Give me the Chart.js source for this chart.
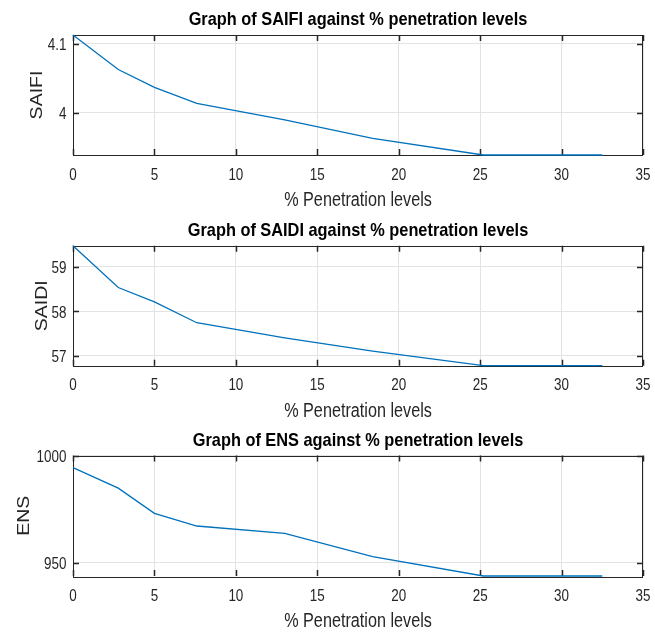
<!DOCTYPE html>
<html>
<head>
<meta charset="utf-8">
<script src="https://cdn.jsdelivr.net/npm/chart.js@4.4.1/dist/chart.umd.min.js"></script>
<style>
  html, body { margin: 0; padding: 0; background: #fff; }
  #wrap { width: 655px; height: 633px; }
  canvas { display: block; }
</style>
</head>
<body>
<div id="wrap">
  <canvas id="saifi" width="655" height="211"></canvas>
  <canvas id="saidi" width="655" height="211"></canvas>
  <canvas id="ens" width="655" height="211"></canvas>
</div>
<script>
// values
var penetration = [0, 2.78, 5.0, 7.6, 13.0, 18.4, 25.2, 32.5]
var saifi = [4.113, 4.063, 4.037, 4.014, 3.990, 3.963, 3.939, 3.939]
var saidi = [59.47, 58.53, 58.21, 57.74, 57.40, 57.10, 56.775, 56.775]
var ens = [994.5, 984.9, 973.1, 967.2, 963.8, 952.9, 943.8, 943.8]

var xTicks = [0, 5, 10, 15, 20, 25, 30, 35]
var saifiTicks = [4, 4.1]
var saidiTicks = [57, 58, 59]
var ensTicks = [950, 1000]

var saifiRange = [3.939, 4.113]
var saidiRange = [56.775, 59.47]
var ensRange = [943.8, 1000.2]

var FONT = '"Liberation Sans", Arial, Helvetica, sans-serif'
var AXIS = '#262626'

// the original export is squeezed sideways, so text gets a horizontal scale
function squeezedText(ctx, text, x, y, sx, align) {
    ctx.save()
    ctx.translate(x, y)
    ctx.scale(sx, 1)
    ctx.textAlign = align
    ctx.fillText(text, 0, 0)
    ctx.restore()
}

// MATLAB-ish box and inward ticks under the line, labels and titles on top
var matlabBox = {
    id: 'matlabBox',
    beforeDatasetsDraw: function(chart) {
        var ctx = chart.ctx
        var a = chart.chartArea
        var xs = chart.scales.x, ys = chart.scales.y
        var len = 6
        ctx.save()
        ctx.strokeStyle = AXIS
        ctx.lineWidth = 1
        ctx.strokeRect(Math.round(a.left) + 0.5, Math.round(a.top) + 0.5,
            Math.round(a.right - a.left) - 1, Math.round(a.bottom - a.top))
        ctx.lineWidth = 1.5
        ctx.beginPath()
        xs.ticks.forEach(function(t) {
            var px = Math.round(xs.getPixelForValue(t.value)) + 0.5
            ctx.moveTo(px, a.bottom); ctx.lineTo(px, a.bottom - len)
            ctx.moveTo(px, a.top); ctx.lineTo(px, a.top + len)
        })
        ys.ticks.forEach(function(t) {
            var py = Math.round(ys.getPixelForValue(t.value)) + 0.5
            ctx.moveTo(a.left, py); ctx.lineTo(a.left + len, py)
            ctx.moveTo(a.right, py); ctx.lineTo(a.right - len, py)
        })
        ctx.stroke()
        ctx.restore()
    },
    afterDraw: function(chart, args, opts) {
        var ctx = chart.ctx
        var a = chart.chartArea
        var xs = chart.scales.x, ys = chart.scales.y
        ctx.save()
        ctx.textBaseline = 'alphabetic'
        ctx.fillStyle = AXIS
        ctx.font = '16px ' + FONT
        xs.ticks.forEach(function(t) {
            squeezedText(ctx, String(t.value), xs.getPixelForValue(t.value), a.bottom + 24.5, 0.84, 'center')
        })
        ys.ticks.forEach(function(t) {
            squeezedText(ctx, String(t.value), a.left - 6.5, ys.getPixelForValue(t.value) + 6.5, 0.84, 'right')
        })

        var cx = (a.left + a.right) / 2
        ctx.font = '20px ' + FONT
        squeezedText(ctx, opts.xLabel, cx, a.bottom + 51, 0.81, 'center')

        ctx.save()
        ctx.font = '19.5px ' + FONT
        ctx.translate(opts.yLabelX, (a.top + a.bottom) / 2)
        ctx.scale(0.87, 1)
        ctx.rotate(-Math.PI / 2)
        ctx.textAlign = 'center'
        ctx.fillText(opts.yLabel, 0, 0)
        ctx.restore()

        ctx.fillStyle = '#000'
        ctx.font = 'bold 19px ' + FONT
        squeezedText(ctx, opts.text, cx, a.top - 10, 0.86, 'center')
        ctx.restore()
    }
}

function makePanel(id, title, yLabel, values, ticks, range, yLabelX, top, plotH) {
    var points = penetration.map(function(x, i) { return {x: x, y: values[i]} })
    return new Chart(document.getElementById(id), {
        type: 'line',
        data: {
            datasets: [{
                data: points,
                borderColor: '#0072BD',
                borderWidth: 1.3,
                pointRadius: 0,
                tension: 0,
                fill: false,
                clip: 2
            }]
        },
        options: {
            responsive: false,
            animation: false,
            events: [],
            layout: { padding: { top: top, right: 12, left: 0, bottom: 0 } },
            plugins: {
                legend: { display: false },
                tooltip: { enabled: false },
                matlabBox: { text: title, xLabel: '% Penetration levels', yLabel: yLabel, yLabelX: yLabelX }
            },
            scales: {
                x: {
                    type: 'linear',
                    min: 0,
                    max: 35,
                    afterBuildTicks: function(s) { s.ticks = xTicks.map(function(v) { return {value: v} }) },
                    afterFit: function(s) { s.height = 211 - top - plotH },
                    grid: { color: '#e3e3e3', drawTicks: false },
                    border: { display: false },
                    ticks: { display: false }
                },
                y: {
                    min: range[0],
                    max: range[1],
                    afterBuildTicks: function(s) { s.ticks = ticks.map(function(v) { return {value: v} }) },
                    afterFit: function(s) { s.width = 73 },
                    grid: { color: '#e3e3e3', drawTicks: false },
                    border: { display: false },
                    ticks: { display: false }
                }
            }
        },
        plugins: [matlabBox]
    })
}

makePanel('saifi', 'Graph of SAIFI against % penetration levels', 'SAIFI', saifi, saifiTicks, saifiRange, 42, 35, 120)
makePanel('saidi', 'Graph of SAIDI against % penetration levels', 'SAIDI', saidi, saidiTicks, saidiRange, 46.5, 34.7, 120)
makePanel('ens', 'Graph of ENS against % penetration levels', 'ENS', ens, ensTicks, ensRange, 28.5, 33.5, 120.5)
</script>
</body>
</html>
